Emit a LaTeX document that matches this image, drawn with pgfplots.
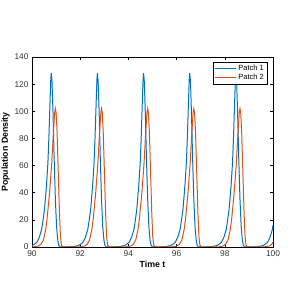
\documentclass[border=0pt]{standalone}
\usepackage{pgfplots}
\pgfplotsset{compat=1.18}
\usepackage{fontspec}
\setmainfont{Liberation Sans}
\definecolor{mblue}{RGB}{0,114,189}
\definecolor{morange}{RGB}{217,83,25}
\pgfplotsset{longline legend/.style={legend image code/.code={\draw[mark repeat=2,mark phase=2,##1] plot coordinates {(0cm,0cm) (0.37cm,0cm) (0.74cm,0cm)};}}}
\begin{document}
\begin{tikzpicture}
\path[use as bounding box] (-32bp,-41bp) rectangle (261bp,247bp);
\begin{axis}[
  at={(0,0)}, anchor=south west,
  scale only axis, width=241bp, height=190bp,
  xmin=90, xmax=100, ymin=0, ymax=140,
  xtick={90,92,...,100}, ytick={0,20,...,140},
  tick align=inside, major tick length=3bp,
  tick style={black, line width=0.5pt},
  axis line style={black, line width=0.6pt},
  /pgf/number format/assume math mode=true,
  ticklabel style={font=\fontsize{8.4}{9}\selectfont, text=black!80},
  xlabel={\textbf{Time t}}, ylabel={\textbf{Population Density}},
  label style={font=\fontsize{8.8}{10}\selectfont},
  xlabel style={yshift=2bp},
  ylabel style={yshift=-2bp},
  legend style={at={(0.975,0.972)}, anchor=north east, font=\fontsize{7.5}{8.5}\selectfont,
    draw=black, inner sep=1pt, row sep=-2pt, fill=white},
  legend cell align=left,
  legend image post style={line width=1pt},
]
\addplot[mblue, line width=1pt, longline legend] coordinates {
(90.0,1) (90.1,2) (90.2,3.5) (90.3,7) (90.4,13) (90.46,20) (90.52,28) (90.6,45) (90.66,62) (90.7,80) (90.75,108) (90.78,124) (90.80,128) (90.83,122) (90.87,100) (90.92,65) (90.97,35) (91.02,15) (91.07,5) (91.11,1.2) (91.16,0.2) (91.25,0)
(91.715,0.3) (91.915,1) (92.015,2) (92.115,3.5) (92.215,7) (92.315,13) (92.375,20) (92.435,28) (92.515,45) (92.575,62) (92.615,80) (92.665,108) (92.695,124) (92.715,128) (92.745,122) (92.785,100) (92.835,65) (92.885,35) (92.935,15) (92.985,5) (93.025,1.2) (93.075,0.2) (93.165,0)
(93.63,0.3) (93.83,1) (93.93,2) (94.03,3.5) (94.13,7) (94.23,13) (94.29,20) (94.35,28) (94.43,45) (94.49,62) (94.53,80) (94.58,108) (94.61,124) (94.63,128) (94.66,122) (94.70,100) (94.75,65) (94.80,35) (94.85,15) (94.90,5) (94.94,1.2) (94.99,0.2) (95.08,0)
(95.545,0.3) (95.745,1) (95.845,2) (95.945,3.5) (96.045,7) (96.145,13) (96.205,20) (96.265,28) (96.345,45) (96.405,62) (96.445,80) (96.495,108) (96.525,124) (96.545,128) (96.575,122) (96.615,100) (96.665,65) (96.715,35) (96.765,15) (96.815,5) (96.855,1.2) (96.905,0.2) (96.995,0)
(97.46,0.3) (97.66,1) (97.76,2) (97.86,3.5) (97.96,7) (98.06,13) (98.12,20) (98.18,28) (98.26,45) (98.32,62) (98.36,80) (98.41,108) (98.44,124) (98.46,128) (98.49,122) (98.53,100) (98.58,65) (98.63,35) (98.68,15) (98.73,5) (98.77,1.2) (98.82,0.2) (98.91,0)
(99.375,0.3) (99.575,1) (99.675,2) (99.775,3.5) (99.875,7) (99.975,13) (100.0,16)
};
\addlegendentry{Patch 1}
\addplot[morange, line width=1pt, longline legend] coordinates {
(90.0,0.05) (90.17,0.3) (90.27,0.8) (90.37,2) (90.47,5) (90.57,13) (90.62,20) (90.72,38) (90.82,62) (90.89,85) (90.94,99) (90.97,102) (91.00,99) (91.04,85) (91.09,55) (91.14,25) (91.18,8) (91.22,1.5) (91.27,0.2) (91.35,0)
(91.885,0.05) (92.085,0.3) (92.185,0.8) (92.285,2) (92.385,5) (92.485,13) (92.535,20) (92.635,38) (92.735,62) (92.805,85) (92.855,99) (92.885,102) (92.915,99) (92.955,85) (93.005,55) (93.055,25) (93.095,8) (93.135,1.5) (93.185,0.2) (93.265,0)
(93.80,0.05) (94.00,0.3) (94.10,0.8) (94.20,2) (94.30,5) (94.40,13) (94.45,20) (94.55,38) (94.65,62) (94.72,85) (94.77,99) (94.80,102) (94.83,99) (94.87,85) (94.92,55) (94.97,25) (95.01,8) (95.05,1.5) (95.10,0.2) (95.18,0)
(95.715,0.05) (95.915,0.3) (96.015,0.8) (96.115,2) (96.215,5) (96.315,13) (96.365,20) (96.465,38) (96.565,62) (96.635,85) (96.685,99) (96.715,102) (96.745,99) (96.785,85) (96.835,55) (96.885,25) (96.925,8) (96.965,1.5) (97.015,0.2) (97.095,0)
(97.63,0.05) (97.83,0.3) (97.93,0.8) (98.03,2) (98.13,5) (98.23,13) (98.28,20) (98.38,38) (98.48,62) (98.55,85) (98.60,99) (98.63,102) (98.66,99) (98.70,85) (98.75,55) (98.80,25) (98.84,8) (98.88,1.5) (98.93,0.2) (99.01,0)
(99.545,0.05) (99.745,0.3) (99.845,0.8) (99.945,2) (100.0,3.5)
};
\addlegendentry{Patch 2}
\end{axis}
\end{tikzpicture}
\end{document}
